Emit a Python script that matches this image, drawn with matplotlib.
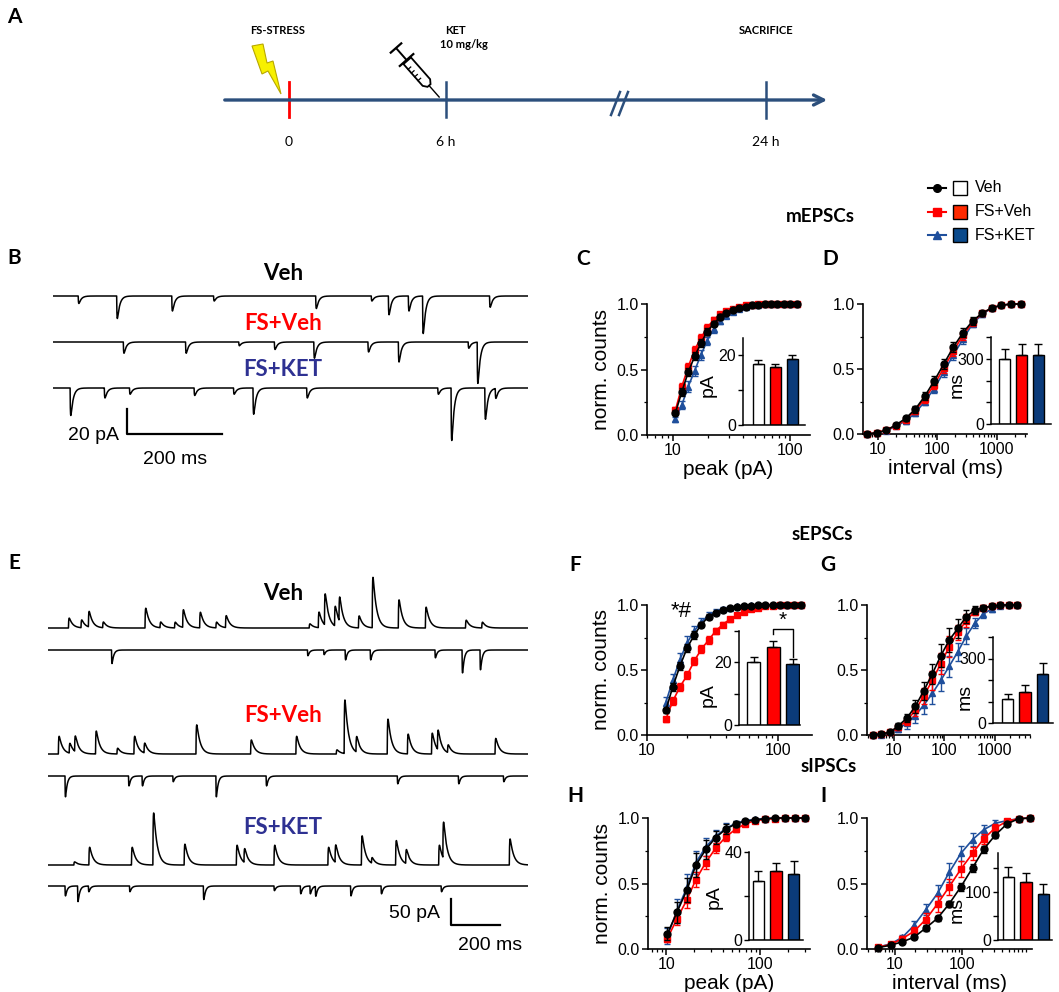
import numpy as np
import matplotlib
matplotlib.use('Agg')
import matplotlib.pyplot as plt
from matplotlib.ticker import FuncFormatter, NullFormatter, FixedLocator
from matplotlib.patches import Polygon, Rectangle
from matplotlib.lines import Line2D

plt.rcParams['font.family'] = ['Liberation Sans', 'DejaVu Sans']
BOLD = ['Lato', 'DejaVu Sans']

# ---------------- DATA ----------------
groups = ['Veh', 'FS+Veh', 'FS+KET']

# C: mEPSC peak cumulative
c_x = [10.5, 11.9, 13.5, 15.3, 17.3, 19.6, 22.3, 25.2, 28.6, 32.5, 36.8, 41.7, 47.3, 53.6, 60.8, 68.9, 78.1, 88.6, 100.4, 113.8]
c_veh = [0.17, 0.33, 0.48, 0.60, 0.70, 0.79, 0.85, 0.90, 0.93, 0.955, 0.97, 0.98, 0.99, 0.995, 1.0, 1.0, 1.0, 1.0, 1.0, 1.0]
c_fs = [0.19, 0.37, 0.52, 0.65, 0.74, 0.82, 0.88, 0.92, 0.945, 0.965, 0.98, 0.99, 0.995, 1.0, 1.0, 1.0, 1.0, 1.0, 1.0, 1.0]
c_ket = [0.12, 0.23, 0.37, 0.49, 0.61, 0.72, 0.81, 0.87, 0.91, 0.94, 0.965, 0.98, 0.99, 0.995, 1.0, 1.0, 1.0, 1.0, 1.0, 1.0]
c_veh_e = [0.02, 0.03, 0.03, 0.03, 0.03, 0.03, 0.02, 0.02, 0.015, 0.01, 0.01, 0.005, 0, 0, 0, 0, 0, 0, 0, 0]
c_fs_e = [0.02, 0.03, 0.03, 0.03, 0.03, 0.025, 0.02, 0.015, 0.01, 0.01, 0.005, 0.005, 0, 0, 0, 0, 0, 0, 0, 0]
c_ket_e = [0.02, 0.03, 0.04, 0.04, 0.04, 0.03, 0.03, 0.02, 0.02, 0.015, 0.01, 0.005, 0, 0, 0, 0, 0, 0, 0, 0]
c_bar = [17.6, 16.6, 19.0]
c_bar_e = [1.2, 1.0, 1.0]

# D: mEPSC interval cumulative
d_x = [6.6, 9.6, 13.9, 20.1, 29.2, 42.3, 61.3, 88.9, 128.9, 186.9, 271, 393, 570, 826, 1198, 1737, 2519]
d_veh = [0.0, 0.01, 0.03, 0.07, 0.12, 0.19, 0.29, 0.41, 0.54, 0.67, 0.78, 0.87, 0.93, 0.97, 0.99, 1.0, 1.0]
d_fs = [0.0, 0.01, 0.03, 0.065, 0.11, 0.18, 0.27, 0.38, 0.51, 0.64, 0.76, 0.86, 0.93, 0.97, 0.99, 1.0, 1.0]
d_ket = [0.0, 0.01, 0.025, 0.06, 0.10, 0.16, 0.25, 0.35, 0.48, 0.61, 0.73, 0.85, 0.92, 0.97, 0.99, 1.0, 1.0]
d_err = [0.0, 0.005, 0.01, 0.015, 0.02, 0.025, 0.03, 0.035, 0.04, 0.04, 0.035, 0.03, 0.02, 0.01, 0.005, 0, 0]
d_bar = [297, 317, 318]
d_bar_e = [50, 53, 48]

# F: sEPSC peak cumulative
f_x = [13.9, 15.7, 17.8, 20.2, 22.9, 25.9, 29.4, 33.3, 37.7, 42.7, 48.4, 54.8, 62.1, 70.4, 79.7, 90.3, 102.3, 115.9, 131.4, 148.8]
f_veh = [0.19, 0.37, 0.53, 0.67, 0.77, 0.85, 0.91, 0.94, 0.96, 0.975, 0.985, 0.99, 0.995, 1.0, 1.0, 1.0, 1.0, 1.0, 1.0, 1.0]
f_fs = [0.12, 0.26, 0.37, 0.46, 0.57, 0.66, 0.73, 0.80, 0.85, 0.89, 0.92, 0.95, 0.97, 0.98, 0.99, 0.995, 1.0, 1.0, 1.0, 1.0]
f_ket = [0.25, 0.42, 0.58, 0.71, 0.80, 0.87, 0.92, 0.95, 0.97, 0.98, 0.99, 0.995, 1.0, 1.0, 1.0, 1.0, 1.0, 1.0, 1.0, 1.0]
f_veh_e = [0.02, 0.03, 0.03, 0.03, 0.03, 0.02, 0.02, 0.015, 0.01, 0.01, 0.005, 0, 0, 0, 0, 0, 0, 0, 0, 0]
f_fs_e = [0.02, 0.03, 0.03, 0.03, 0.03, 0.03, 0.03, 0.025, 0.02, 0.02, 0.015, 0.01, 0.01, 0.005, 0, 0, 0, 0, 0, 0]
f_ket_e = [0.04, 0.05, 0.05, 0.05, 0.04, 0.03, 0.03, 0.02, 0.015, 0.01, 0.005, 0, 0, 0, 0, 0, 0, 0, 0, 0]
f_bar = [20.2, 25.0, 19.5]
f_bar_e = [1.4, 1.8, 1.5]

# G: sEPSC interval cumulative
g_x = [3.77, 5.56, 8.2, 12.1, 17.9, 26.4, 38.9, 57.4, 84.7, 124.9, 184.2, 271.7, 400.8, 591.2, 872, 1286, 1897, 2799]
g_veh = [0.0, 0.01, 0.02, 0.07, 0.13, 0.22, 0.34, 0.47, 0.61, 0.73, 0.82, 0.91, 0.96, 0.98, 0.99, 1.0, 1.0, 1.0]
g_fs = [0.0, 0.01, 0.02, 0.06, 0.11, 0.19, 0.30, 0.42, 0.55, 0.68, 0.79, 0.88, 0.95, 0.98, 0.99, 1.0, 1.0, 1.0]
g_ket = [0.0, 0.0, 0.02, 0.05, 0.09, 0.15, 0.23, 0.32, 0.42, 0.53, 0.64, 0.76, 0.86, 0.93, 0.97, 0.99, 1.0, 1.0]
g_veh_e = [0, 0.005, 0.01, 0.02, 0.03, 0.05, 0.07, 0.08, 0.09, 0.09, 0.07, 0.05, 0.03, 0.02, 0.01, 0, 0, 0]
g_fs_e = [0, 0.005, 0.01, 0.02, 0.03, 0.04, 0.06, 0.07, 0.08, 0.08, 0.06, 0.05, 0.03, 0.02, 0.01, 0, 0, 0]
g_ket_e = [0, 0, 0.01, 0.03, 0.04, 0.06, 0.07, 0.08, 0.08, 0.08, 0.07, 0.06, 0.04, 0.03, 0.02, 0.01, 0, 0]
g_bar = [112, 145, 230]
g_bar_e = [25, 31, 50]

# H: sIPSC peak cumulative
h_x = [10.3, 13.0, 16.6, 20.7, 26.4, 33.6, 43.1, 55.0, 69.6, 88.5, 112.9, 144, 183.7, 234, 299]
h_veh = [0.115, 0.28, 0.45, 0.64, 0.76, 0.85, 0.915, 0.955, 0.975, 0.985, 0.995, 1.0, 1.0, 1.0, 1.0]
h_fs = [0.08, 0.23, 0.375, 0.53, 0.66, 0.77, 0.855, 0.915, 0.955, 0.98, 0.99, 0.995, 1.0, 1.0, 1.0]
h_ket = [0.10, 0.29, 0.47, 0.66, 0.78, 0.86, 0.92, 0.96, 0.98, 0.99, 0.995, 1.0, 1.0, 1.0, 1.0]
h_veh_e = [0.05, 0.08, 0.09, 0.09, 0.07, 0.05, 0.04, 0.02, 0.01, 0.01, 0.005, 0, 0, 0, 0]
h_fs_e = [0.03, 0.05, 0.06, 0.06, 0.05, 0.04, 0.03, 0.02, 0.015, 0.01, 0.005, 0, 0, 0, 0]
h_ket_e = [0.06, 0.09, 0.10, 0.09, 0.07, 0.05, 0.04, 0.02, 0.01, 0.01, 0.005, 0, 0, 0, 0]
h_bar = [26.9, 31.5, 30.0]
h_bar_e = [4.3, 3.5, 5.8]

# I: sIPSC interval cumulative
i_x = [5.62, 8.71, 12.9, 19.2, 28.8, 43.2, 64.6, 96.6, 144.5, 211, 316, 473, 708, 1059]
i_veh = [0.01, 0.03, 0.055, 0.09, 0.16, 0.235, 0.345, 0.475, 0.62, 0.76, 0.87, 0.955, 0.995, 1.0]
i_fs = [0.015, 0.035, 0.08, 0.135, 0.225, 0.345, 0.475, 0.61, 0.73, 0.84, 0.925, 0.975, 0.995, 1.0]
i_ket = [0.015, 0.04, 0.09, 0.18, 0.30, 0.425, 0.585, 0.73, 0.835, 0.91, 0.96, 0.98, 0.995, 1.0]
i_veh_e = [0.005, 0.01, 0.01, 0.015, 0.02, 0.02, 0.025, 0.03, 0.03, 0.03, 0.02, 0.01, 0.005, 0]
i_fs_e = [0.005, 0.01, 0.02, 0.03, 0.05, 0.06, 0.06, 0.06, 0.05, 0.04, 0.03, 0.015, 0.005, 0]
i_ket_e = [0.005, 0.01, 0.02, 0.03, 0.04, 0.06, 0.07, 0.06, 0.05, 0.04, 0.025, 0.01, 0.005, 0]
i_bar = [130, 119, 95]
i_bar_e = [22, 19, 21]

# Trace events: (time ms, amplitude pA)
b_veh_ev = [(53, -6), (134, -18), (250, -12), (338, -4), (553, -10), (670, -4), (706, -15), (748, -12), (778, -30), (919, -9)]
b_fs_ev = [(148, -9), (279, -9), (391, -3), (466, -6), (549, -13), (663, -8), (727, -16), (874, -5), (893, -33)]
b_ket_ev = [(36, -22), (108, -8), (161, -5), (297, -6), (380, -5), (421, -21), (534, -8), (810, -5), (838, -42), (909, -25), (931, -8)]

e_veh_up = [(83, 19), (134, 15), (164, 30), (222, 11), (394, 38), (455, 11), (514, 11), (547, 34), (616, 30), (682, 11),
            (721, 23), (1061, 8), (1098, 30), (1123, 60), (1164, 38), (1182, 47), (1261, 23), (1317, 97), (1423, 54),
            (1533, 40), (1696, 15), (1762, 11)]
e_veh_dn = [(258, -26), (1054, -11), (1120, -9), (1207, -19), (1309, -19), (1572, -15), (1682, -44), (1755, -38)]
e_fs_up = [(42, 34), (86, 19), (108, 30), (193, 44), (280, 11), (349, 34), (390, 19), (601, 56), (823, 27), (1007, 34),
           (1171, 8), (1203, 103), (1251, 30), (1378, 67), (1460, 38), (1558, 40), (1582, 38), (1623, 15), (1816, 30)]
e_fs_dn = [(69, -40), (327, -19), (382, -19), (507, -11), (682, -40), (886, -19), (1419, -15), (1667, -15), (1850, -11)]
e_ket_up = [(105, 6), (166, 34), (339, 34), (426, 100), (553, 40), (765, 38), (796, 27), (918, 38), (1137, 34), (1166, 34),
            (1273, 56), (1314, 11), (1412, 47), (1453, 27), (1587, 38), (1604, 70), (1874, 50)]
e_ket_dn = [(69, -19), (120, -30), (164, -11), (331, -11), (631, -26), (918, -9), (1025, -15), (1064, -15), (1086, -19),
            (1229, -19), (1353, -15), (1597, -11)]

# ---------------- STYLE ----------------
W, H = 1059, 992
RED = '#ff0000'
BLUE = '#1f4f9c'
NAVY = '#0b3b7a'
TXT_BLUE = '#2e3192'
TL = '#2c4f7c'

fig = plt.figure(figsize=(W / 100, H / 100), dpi=100)


def px_axes(l, t, r, b):
    return fig.add_axes([l / W, 1 - b / H, (r - l) / W, (b - t) / H])


ov = fig.add_axes([0, 0, 1, 1])
ov.set_xlim(0, W)
ov.set_ylim(H, 0)
ov.axis('off')


def btxt(x, y, s, size, color='black', ha='center'):
    ov.text(x, y, s, fontsize=size, fontweight='bold', family=BOLD, color=color, ha=ha, va='center')


# ---------------- PANEL A ----------------
btxt(14, 17, 'A', 15)
ov.annotate('', xy=(830, 100), xytext=(222, 100),
            arrowprops=dict(arrowstyle='->', lw=2.4, color=TL, mutation_scale=18))
ov.plot([289, 289], [82, 117], color=RED, lw=2)
ov.plot([446, 446], [82, 117], color=TL, lw=1.8)
ov.plot([766, 766], [82, 118], color=TL, lw=1.8)
ov.plot([611, 620], [115, 92], color=TL, lw=1.8)
ov.plot([619, 628], [115, 92], color=TL, lw=1.8)
ov.text(289, 142, '0', fontsize=10, ha='center', va='center', family=BOLD)
ov.text(446, 142, '6 h', fontsize=10, ha='center', va='center', family=BOLD)
ov.text(766, 142, '24 h', fontsize=10, ha='center', va='center', family=BOLD)
btxt(278, 31, 'FS-STRESS', 8)
btxt(455, 31, 'KET', 8)
btxt(464, 44, '10 mg/kg', 8)
btxt(766, 31, 'SACRIFICE', 8)
bolt = Polygon([(252, 46), (263, 44), (267, 63), (273, 61), (281, 94), (268, 71), (262, 74)],
               closed=True, facecolor='#f7f000', edgecolor='#b8a800', lw=0.8)
ov.add_patch(bolt)
# syringe
p0 = np.array([396.0, 48.0])
d = np.array([44.0, 50.0]); d = d / np.hypot(*d)
n = np.array([-d[1], d[0]])
def seg(s1, s2, off=0.0, **kw):
    a = p0 + d * s1 + n * off
    b = p0 + d * s2 + n * off
    ov.plot([a[0], b[0]], [a[1], b[1]], color='black', solid_capstyle='butt', **kw)
def cross(s, half, **kw):
    a = p0 + d * s - n * half
    b = p0 + d * s + n * half
    ov.plot([a[0], b[0]], [a[1], b[1]], color='black', **kw)
cross(0, 7, lw=1.6)
seg(0, 16, lw=1.4)
cross(16, 9, lw=1.6)
barrel = [p0 + d * 17 - n * 5, p0 + d * 46 - n * 5, p0 + d * 50 - n * 2, p0 + d * 50 + n * 2,
          p0 + d * 46 + n * 5, p0 + d * 17 + n * 5]
ov.add_patch(Polygon(barrel, closed=True, facecolor='white', edgecolor='black', lw=1.3))
for s in [24, 29, 34, 39]:
    a = p0 + d * s + n * 5
    b = p0 + d * s + n * 1.5
    ov.plot([a[0], b[0]], [a[1], b[1]], color='black', lw=0.9)
seg(50, 66, lw=1.0)

# ---------------- LEGEND ----------------
leg_rows = [188, 212, 235]
leg_line = ['black', RED, BLUE]
leg_mark = ['o', 's', '^']
leg_box = ['white', '#ff2a00', '#0a4a8c']
for yy, lc, mk, bc, g in zip(leg_rows, leg_line, leg_mark, leg_box, groups):
    ov.add_line(Line2D([928, 946], [yy, yy], color=lc, lw=1.5))
    ov.plot([937], [yy], marker=mk, color=lc, ms=5.5)
    ov.add_patch(Rectangle((953, yy - 7), 14, 14, facecolor=bc, edgecolor='black', lw=1))
    ov.text(975, yy, g, fontsize=11.5, va='center', ha='left')

# headings and panel letters
btxt(820, 216, 'mEPSCs', 13.5)
btxt(822, 535, 'sEPSCs', 13.5)
btxt(829, 767, 'sIPSCs', 13.5)
for lab, x, y in [('B', 14, 258), ('C', 583, 259), ('D', 830, 259), ('E', 14, 563), ('F', 575, 565),
                  ('G', 828, 565), ('H', 575, 796), ('I', 824, 796)]:
    btxt(x, y, lab, 15)

# ---------------- CUMULATIVE PANELS ----------------
STY = {'Veh': dict(c='black', m='o', ms=5.0),
       'FS+Veh': dict(c=RED, m='s', ms=4.6),
       'FS+KET': dict(c=BLUE, m='^', ms=5.0)}


def style_spines(ax, lw=1.2):
    for s in ['top', 'right']:
        ax.spines[s].set_visible(False)
    for s in ['left', 'bottom']:
        ax.spines[s].set_linewidth(lw)


def cum_panel(box, xlim, xt, x, ys, es, ylab=None, xlab=None):
    ax = px_axes(*box)
    ax.patch.set_alpha(0)
    ax.set_xscale('log')
    for key, z in [('FS+KET', 3), ('FS+Veh', 4), ('Veh', 5)]:
        st = STY[key]
        cont = ax.errorbar(x, ys[key], yerr=es[key], color=st['c'], marker=st['m'], ms=st['ms'],
                           lw=1.2, elinewidth=1.0, capsize=2.2, capthick=1.0, zorder=z)
        for art in cont.get_children():
            art.set_clip_on(False)
    ax.set_xlim(*xlim)
    ax.set_ylim(0, 1)
    ax.set_yticks([0, 0.5, 1.0])
    ax.set_yticklabels(['0.0', '0.5', '1.0'])
    ax.yaxis.set_minor_locator(FixedLocator([0.25, 0.75]))
    ax.xaxis.set_major_locator(FixedLocator(xt))
    ax.xaxis.set_major_formatter(FuncFormatter(lambda v, p: f'{v:g}'))
    ax.xaxis.set_minor_formatter(NullFormatter())
    ax.tick_params(which='major', length=4, width=1.1, labelsize=11.5, direction='out', pad=2)
    ax.tick_params(which='minor', length=2.5, width=0.9, direction='out')
    style_spines(ax)
    if ylab:
        ax.set_ylabel(ylab, fontsize=15, labelpad=4)
    if xlab:
        ax.set_xlabel(xlab, fontsize=15, labelpad=1)
    return ax


def bar_inset(box, xlim, vals, errs, ylim, ticks, labels, ylab, labxy):
    ax = px_axes(*box)
    ax.patch.set_alpha(0)
    pos = [0, 1, 2]
    ax.bar(pos, vals, width=0.65, color=['white', RED, NAVY], edgecolor='black', lw=1.0, zorder=2)
    ax.errorbar(pos, vals, yerr=[[0, 0, 0], errs], fmt='none', ecolor='black', elinewidth=1.0,
                capsize=3, capthick=1.0, zorder=3)
    ax.set_xlim(*xlim)
    ax.set_ylim(*ylim)
    ax.set_xticks([])
    ax.set_yticks(ticks)
    ax.set_yticklabels(labels)
    ax.tick_params(length=3.5, width=1.0, labelsize=11.5, pad=1.5)
    style_spines(ax, 1.1)
    ax.set_ylabel(ylab, fontsize=14)
    ax.yaxis.set_label_coords(*labxy)
    return ax


axC = cum_panel((647, 304, 810, 435), (6.0, 148), [10, 100], c_x,
                {'Veh': c_veh, 'FS+Veh': c_fs, 'FS+KET': c_ket},
                {'Veh': c_veh_e, 'FS+Veh': c_fs_e, 'FS+KET': c_ket_e}, 'norm. counts', 'peak (pA)')
bar_inset((743, 338, 805, 425), (-0.9, 2.75), c_bar, c_bar_e, (0, 25), [0, 10, 20], ['0', '', '20'], 'pA', (-0.42, 0.46))

axD = cum_panel((863, 304, 1027, 434), (5.6, 3230), [10, 100, 1000], d_x,
                {'Veh': d_veh, 'FS+Veh': d_fs, 'FS+KET': d_ket},
                {'Veh': d_err, 'FS+Veh': d_err, 'FS+KET': d_err}, None, 'interval (ms)')
bar_inset((991, 337, 1051, 424), (-0.8, 2.74), d_bar, d_bar_e, (0, 400), [0, 100, 200, 300, 400],
          ['0', '', '', '300', ''], 'ms', (-0.42, 0.45))

axF = cum_panel((647, 605, 812, 735), (10, 180), [10, 100], f_x,
                {'Veh': f_veh, 'FS+Veh': f_fs, 'FS+KET': f_ket},
                {'Veh': f_veh_e, 'FS+Veh': f_fs_e, 'FS+KET': f_ket_e}, 'norm. counts', None)
axF.text(0.21, 0.95, '*#', transform=axF.transAxes, fontsize=16, ha='center', va='center')
axFi = bar_inset((739, 631, 800, 725), (-0.74, 2.37), f_bar, f_bar_e, (0, 30), [0, 10, 20, 30],
                 ['0', '', '20', ''], 'pA', (-0.37, 0.32))
axFi.plot([1, 1, 2, 2], [28.9, 30.6, 30.6, 21.8], color='black', lw=1.0, clip_on=False)
axFi.text(1.5, 33.3, '*', fontsize=15, ha='center', va='center', clip_on=False)

axG = cum_panel((867, 605, 1030, 735), (2.9, 5000), [10, 100, 1000], g_x,
                {'Veh': g_veh, 'FS+Veh': g_fs, 'FS+KET': g_ket},
                {'Veh': g_veh_e, 'FS+Veh': g_fs_e, 'FS+KET': g_ket_e}, None, None)
bar_inset((993, 637, 1053, 723), (-0.83, 2.6), g_bar, g_bar_e, (0, 400), [0, 100, 200, 300, 400],
          ['0', '', '', '300', ''], 'ms', (-0.32, 0.30))

axH = cum_panel((648, 818, 810, 949), (6.4, 340), [10, 100], h_x,
                {'Veh': h_veh, 'FS+Veh': h_fs, 'FS+KET': h_ket},
                {'Veh': h_veh_e, 'FS+Veh': h_fs_e, 'FS+KET': h_ket_e}, 'norm. counts', 'peak (pA)')
bar_inset((749, 852, 803, 940), (-0.54, 2.54), h_bar, h_bar_e, (0, 40), [0, 20, 40], ['0', '', '40'],
          'pA', (-0.48, 0.49))

axI = cum_panel((867, 818, 1032, 949), (3.8, 1120), [10, 100], i_x,
                {'Veh': i_veh, 'FS+Veh': i_fs, 'FS+KET': i_ket},
                {'Veh': i_veh_e, 'FS+Veh': i_fs_e, 'FS+KET': i_ket_e}, None, 'interval (ms)')
bar_inset((998, 853, 1052, 940), (-0.6, 2.5), i_bar, i_bar_e, (0, 180), [0, 50, 100, 150],
          ['0', '', '100', ''], 'ms', (-0.6, 0.34))

# ---------------- TRACES ----------------
def psc(t, events, tr, td):
    y = np.zeros_like(t)
    tp = tr * td / (td - tr) * np.log(td / tr)
    norm = np.exp(-tp / td) - np.exp(-tp / tr)
    for t0, a in events:
        s = np.clip(t - t0, 0, None)
        k = np.where(t > t0, np.exp(-s / td) - np.exp(-s / tr), 0.0)
        y += a * k / norm
    return y


class TraceAxes:
    def __init__(self, l, t, r, b, T, base_px, px_per_pa):
        self.ax = px_axes(l, t, r, b)
        self.ax.axis('off')
        self.l, self.r, self.t, self.b, self.T = l, r, t, b, T
        self.base_px, self.k = base_px, px_per_pa
        self.ax.set_xlim(0, T)
        self.ax.set_ylim(-(b - base_px) / px_per_pa, (base_px - t) / px_per_pa)

    def tx(self, px):
        return (px - self.l) / (self.r - self.l) * self.T

    def ay(self, py):
        return (self.base_px - py) / self.k

    def trace(self, events, base_py, tr, td, lw=1.1):
        tt = np.arange(0, self.T, 0.5)
        self.ax.plot(tt, self.ay(base_py) + psc(tt, events, tr, td), color='black', lw=lw)


# B
tb = TraceAxes(53, 250, 528, 475, 1000, 296, 1.25)
tb.trace(b_veh_ev, 296, 0.6, 5.0)
tb.trace(b_fs_ev, 342, 0.6, 5.0)
tb.trace(b_ket_ev, 388, 0.6, 5.0)
btxt(283, 274, 'Veh', 16)
btxt(283, 323, 'FS+Veh', 16, RED)
btxt(283, 369, 'FS+KET', 16, TXT_BLUE)
x0, x1 = tb.tx(127), tb.tx(127) + 200
tb.ax.plot([x0, x0, x1], [tb.ay(434) + 20, tb.ay(434), tb.ay(434)], color='black', lw=1.6, clip_on=False)
ov.text(119, 436, '20 pA', fontsize=14, ha='right', va='center')
ov.text(175, 460, '200 ms', fontsize=14, ha='center', va='center')

# E
te = TraceAxes(48, 570, 528, 960, 1950, 628, 0.52)
te.trace(e_veh_up, 628, 1.2, 14.0)
te.trace(e_veh_dn, 650, 0.8, 7.0)
te.trace(e_fs_up, 754, 1.2, 14.0)
te.trace(e_fs_dn, 776, 0.8, 7.0)
te.trace(e_ket_up, 865, 1.2, 14.0)
te.trace(e_ket_dn, 886, 0.8, 7.0)
btxt(283, 593, 'Veh', 16)
btxt(283, 716, 'FS+Veh', 16, RED)
btxt(283, 828, 'FS+KET', 16, TXT_BLUE)
x0, x1 = te.tx(451), te.tx(451) + 200
te.ax.plot([x0, x0, x1], [te.ay(925) + 50, te.ay(925), te.ay(925)], color='black', lw=1.6, clip_on=False)
ov.text(440, 913, '50 pA', fontsize=14, ha='right', va='center')
ov.text(490, 946, '200 ms', fontsize=14, ha='center', va='center')

fig.savefig('out.png', dpi=100)
